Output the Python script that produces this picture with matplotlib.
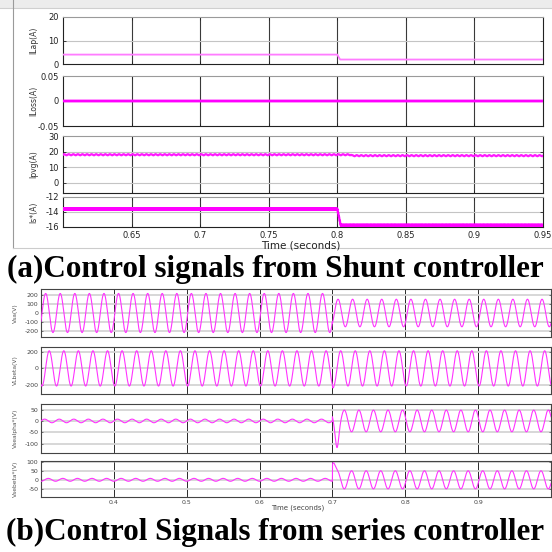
import numpy as np
import matplotlib.pyplot as plt
from matplotlib.patches import Rectangle
from matplotlib.lines import Line2D

plt.rcParams['axes.unicode_minus'] = False

W = H = 552

# ---------------- (a) shunt controller signals ----------------
a_xlim = (0.6, 0.95)
a_xticks = [0.65, 0.7, 0.75, 0.8, 0.85, 0.9, 0.95]
a_xticklabels = ['0.65', '0.7', '0.75', '0.8', '0.85', '0.9', '0.95']
a_names = ['ILap(A)', 'ILoss(A)', 'Ipvg(A)', 'Is*(A)']
a_ylims = [(0, 20), (-0.05, 0.05), (-6.5, 30), (-16, -12)]
a_yticks = [[0, 10, 20], [-0.05, 0, 0.05], [0, 10, 20, 30], [-16, -14, -12]]
a_yticklabels = [['0', '10', '20'], ['-0.05', '0', '0.05'],
                 ['0', '10', '20', '30'], ['-16', '-14', '-12']]
# level before / after the step, step time and ripple on each trace
a_step_time = [0.800, 0.800, 0.810, 0.800]
a_step_len = [0.002, 0.001, 0.0005, 0.0025]
a_before = [4.0, 0.0, 18.0, -13.6]
a_after = [1.9, 0.0, 17.4, -15.8]
a_ripple = [0.0, 0.0, 0.35, 0.12]
a_ripple_hz = [0, 0, 300, 1700]
a_colors = ['#ff7cff', '#ff00ff', '#ff1aff', '#ff00ff']
a_widths = [1.3, 2.0, 1.6, 1.6]

# ---------------- (b) series controller signals ----------------
b_xlim = (0.3, 1.0)
b_xticks = [0.4, 0.5, 0.6, 0.7, 0.8, 0.9]
b_xticklabels = ['0.4', '0.5', '0.6', '0.7', '0.8', '0.9']
b_names = ['Vsa(V)', 'VLbeta(V)', 'Vsealpha*(V)', 'Vsebeta*(V)']
b_ylims = [(-270, 270), (-305, 255), (-142, 75), (-95, 104)]
b_yticks = [[-200, -100, 0, 100, 200], [-200, 0, 200], [-100, -50, 0, 50], [-50, 0, 50, 100]]
f_grid = 50
t_event = 0.7
b_amp_before = [220, 210, 8, 8]
b_amp_after = [155, 210, 48, 50]
b_crest_before = [0.3064, 0.3113, 0.3050, 0.3100]
b_crest_after = [0.7077, 0.7113, 0.7163, 0.7263]
b_kick = [0, -30, -70, 105]
b_kick_time = [0.700, 0.700, 0.7063, 0.700]
b_kick_width = [0.001, 0.002, 0.003, 0.004]

fig = plt.figure(figsize=(5.52, 5.52), dpi=100)


def add_ax(x0, x1, y0, y1):
    return fig.add_axes([x0 / W, 1 - y1 / H, (x1 - x0) / W, (y1 - y0) / H])


# window frame of the scope screenshot
fig.patches.append(Rectangle((0, 1 - 8 / H), 1, 8 / H, transform=fig.transFigure,
                             facecolor='#ececec', edgecolor='none'))
fig.lines.append(Line2D([0, 1], [1 - 8 / H, 1 - 8 / H], transform=fig.transFigure,
                        color='#cfcfcf', lw=0.8))
fig.lines.append(Line2D([13 / W, 13 / W], [1, 1 - 248 / H], transform=fig.transFigure,
                        color='#9a9a9a', lw=0.8))
fig.lines.append(Line2D([13 / W, 1], [1 - 248 / H, 1 - 248 / H], transform=fig.transFigure,
                        color='#cccccc', lw=0.8))

# panel (a)
a_rows = [(17, 64), (76, 126), (136, 193), (197, 227)]
t_a = np.linspace(a_xlim[0], a_xlim[1], 7001)
for i, (y0, y1) in enumerate(a_rows):
    ax = add_ax(63, 543, y0, y1)
    frac = np.clip((t_a - a_step_time[i]) / a_step_len[i], 0, 1)
    y = a_before[i] + (a_after[i] - a_before[i]) * frac
    if a_ripple[i]:
        y = y + a_ripple[i] * np.sin(2 * np.pi * a_ripple_hz[i] * t_a)
    ax.plot(t_a, y, color=a_colors[i], lw=a_widths[i], zorder=3)
    ax.set_xlim(a_xlim)
    ax.set_ylim(a_ylims[i])
    ax.set_xticks(a_xticks)
    ax.set_yticks(a_yticks[i])
    ax.set_yticklabels(a_yticklabels[i])
    for v in a_xticks[:-1]:
        ax.axvline(v, color='#3a3a3a', lw=0.8, zorder=1)
    for v in a_yticks[i]:
        if a_ylims[i][0] < v < a_ylims[i][1]:
            ax.axhline(v, color='#c4c4c4', lw=0.8, zorder=1)
    ax.tick_params(direction='in', length=2, width=0.6, labelsize=6, colors='#222222',
                   top=True, right=True, pad=3)
    if i < 3:
        ax.tick_params(labelbottom=False)
    else:
        ax.set_xticklabels(a_xticklabels)
    for s in ax.spines.values():
        s.set_color('#222222')
        s.set_linewidth(0.8)
    ax.spines['top'].set_color('#9a9a9a')
    fig.text(34 / W, 1 - (y0 + y1) / 2 / H, a_names[i], rotation=90, ha='center',
             va='center', fontsize=5.5, color='#333333')

fig.text(301 / W, 1 - 245 / H, 'Time (seconds)', ha='center', va='center',
         fontsize=7.5, color='#222222')

# panel (b)
b_rows = [(289, 337), (347, 394), (404, 453), (461, 497)]
t_b = np.linspace(b_xlim[0], b_xlim[1], 14001)
after = t_b >= t_event
for i, (y0, y1) in enumerate(b_rows):
    ax = add_ax(41, 551, y0, y1)
    w_before = b_amp_before[i] * np.cos(2 * np.pi * f_grid * (t_b - b_crest_before[i]))
    w_after = b_amp_after[i] * np.cos(2 * np.pi * f_grid * (t_b - b_crest_after[i]))
    kick = b_kick[i] * np.exp(-((t_b - b_kick_time[i]) / b_kick_width[i]) ** 2)
    y = np.where(after, w_after + kick, w_before)
    ax.plot(t_b, y, color='#ff33ff', lw=0.8, zorder=3)
    ax.set_xlim(b_xlim)
    ax.set_ylim(b_ylims[i])
    ax.set_xticks(b_xticks)
    ax.set_yticks(b_yticks[i])
    for v in b_xticks:
        ax.axvline(v, color='#2a2a2a', lw=0.7, zorder=1)
    for v in b_yticks[i]:
        ax.axhline(v, color='#d4d4d4', lw=1.3, zorder=1)
    ax.tick_params(direction='in', length=1.5, width=0.5, labelsize=4.5, colors='#444444',
                   top=True, right=True, pad=2)
    if i < 3:
        ax.tick_params(labelbottom=False)
    else:
        ax.set_xticklabels(b_xticklabels)
    for s in ax.spines.values():
        s.set_color('#444444')
        s.set_linewidth(0.8)
    fig.text(15 / W, 1 - (y0 + y1) / 2 / H, b_names[i], rotation=90, ha='center',
             va='center', fontsize=4.3, color='#555555')

fig.text(298 / W, 1 - 508 / H, 'Time (seconds)', ha='center', va='center',
         fontsize=5, color='#444444')

# captions
fig.text(275 / W, 1 - 269 / H, '(a)Control signals from Shunt controller',
         ha='center', va='center', fontsize=22.4, fontweight='bold',
         family='Liberation Serif')
fig.text(275 / W, 1 - 532 / H, '(b)Control Signals from series controller',
         ha='center', va='center', fontsize=22.4, fontweight='bold',
         family='Liberation Serif')

fig.savefig('out.png', dpi=100)
